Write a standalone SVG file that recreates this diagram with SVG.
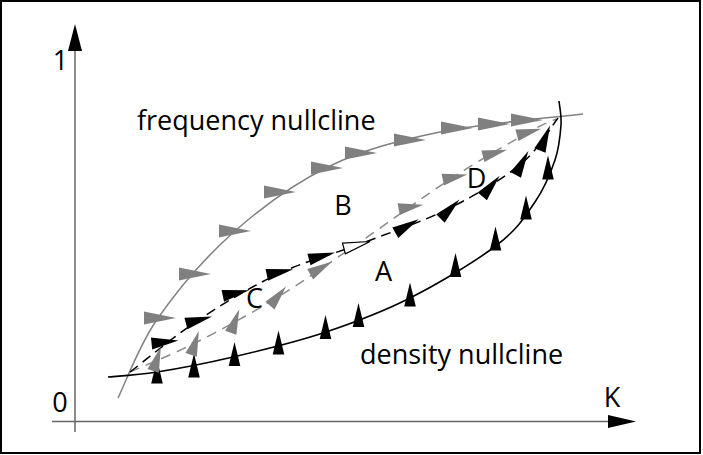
<svg xmlns="http://www.w3.org/2000/svg" xmlns:xlink="http://www.w3.org/1999/xlink" width="703" height="455" viewBox="0 0 703 455">
  <style>
    text { font-family: "Open Sans", "Noto Sans", "DejaVu Sans", sans-serif; font-size: 27px; fill: #000; }
    .axis { stroke: #666; stroke-width: 1.5; fill: none; }
    .freq { stroke: #808080; stroke-width: 1.5; fill: none; }
    .dens { stroke: #000; stroke-width: 1.6; fill: none; }
    .bdash { stroke: #000; stroke-width: 1.5; fill: none; stroke-dasharray: 10 6; }
    .gdash { stroke: #8a8a8a; stroke-width: 1.5; fill: none; stroke-dasharray: 10 7; }
  </style>
  <defs>
    <polygon id="fa" points="-16,-6.5 16,0 -16,6.5" fill="#808080"/>
    <polygon id="da" points="-5.8,12 0,-12 5.8,12" fill="#000"/>
    <polygon id="ba" points="-13.5,-6 13.5,0 -13.5,6" fill="#000"/>
    <polygon id="ga" points="-12.5,-6 12.5,0 -12.5,6" fill="#808080"/>
  </defs>

  <rect x="1" y="1" width="699" height="452" fill="#fff" stroke="#000" stroke-width="2"/>

  <g id="axes">
    <line class="axis" x1="75" y1="432" x2="75" y2="50"/>
    <polygon points="75,24 68,51 82,51" fill="#000"/>
    <line class="axis" x1="52" y1="421.5" x2="610" y2="421.5"/>
    <polygon points="636,421.5 608,415 608,428" fill="#000"/>
    <text x="60.5" y="70" text-anchor="middle">1</text>
    <text x="60" y="412" text-anchor="middle">0</text>
    <text x="612" y="407" text-anchor="middle">K</text>
  </g>

  <g id="frequency-nullcline">
    <path class="freq" d="M118,398 C124.7,384.7 138.5,345.8 158,318 C177.5,290.2 206.3,256.3 235,231 C263.7,205.7 295.8,182.5 330,166 C364.2,149.5 397.8,140.7 440,132 C482.2,123.3 559.2,117 583,114"/>
    <use xlink:href="#fa" x="160" y="318"/>
    <use xlink:href="#fa" x="195" y="274"/>
    <use xlink:href="#fa" x="235" y="231"/>
    <use xlink:href="#fa" x="280" y="192"/>
    <use xlink:href="#fa" x="327" y="168"/>
    <use xlink:href="#fa" x="361" y="153"/>
    <use xlink:href="#fa" x="410" y="140"/>
    <use xlink:href="#fa" x="457" y="128"/>
    <use xlink:href="#fa" x="494" y="124"/>
    <use xlink:href="#fa" x="527" y="120"/>
    <text x="137" y="130">frequency nullcline</text>
  </g>

  <g id="density-nullcline">
    <path class="dens" d="M108,377 C116.2,376.2 136.2,375.3 157,372 C177.8,368.7 205.3,363.5 233,357 C260.7,350.5 293.5,342.8 323,333 C352.5,323.2 381,312.7 410,298 C439,283.3 476.2,261 497,245 C517.8,229 525.3,216.2 535,202 C544.7,187.8 550.7,172.8 555,160 C559.3,147.2 560.3,134.8 561,125 C561.7,115.2 559.3,105 559,101"/>
    <use xlink:href="#da" x="157" y="371.5"/>
    <use xlink:href="#da" x="194" y="365.5"/>
    <use xlink:href="#da" x="234.5" y="354"/>
    <use xlink:href="#da" x="278.5" y="342.5"/>
    <use xlink:href="#da" x="325.5" y="327"/>
    <use xlink:href="#da" x="358.5" y="315"/>
    <use xlink:href="#da" x="410" y="294.5"/>
    <use xlink:href="#da" x="455.5" y="265"/>
    <use xlink:href="#da" x="495.5" y="238.5"/>
    <use xlink:href="#da" x="526" y="207.5"/>
    <use xlink:href="#da" x="548" y="167.5"/>
    <text x="360" y="364">density nullcline</text>
  </g>

  <g id="connectors">
    <path class="gdash" d="M130,372 C140.8,367.2 170.3,355.5 195,343 C219.7,330.5 250.5,313.8 278,297 C305.5,280.2 331,261.8 360,242 C389,222.2 423.8,196.3 452,178 C480.2,159.7 511.7,141.8 529,132 C546.3,122.2 551.5,121.2 556,119"/>
    <path class="bdash" d="M130,372 C141.7,363.2 175,335.5 200,319 C225,302.5 253.3,285.5 280,273 C306.7,260.5 331.7,254.8 360,244 C388.3,233.2 423,221.5 450,208 C477,194.5 504,178 522,163 C540,148 552,125.5 558,118"/>
    <use xlink:href="#ga" transform="translate(157,359) rotate(-72)"/>
    <use xlink:href="#ga" transform="translate(195,343) rotate(-72)"/>
    <use xlink:href="#ga" transform="translate(235,321) rotate(-70)"/>
    <use xlink:href="#ga" transform="translate(278,296) rotate(-50)"/>
    <use xlink:href="#ga" transform="translate(321,268) rotate(-30)"/>
    <use xlink:href="#ga" transform="translate(411,207) rotate(-10)"/>
    <use xlink:href="#ga" transform="translate(455,177) rotate(-12)"/>
    <use xlink:href="#ga" transform="translate(495,153) rotate(-15)"/>
    <use xlink:href="#ga" transform="translate(529,132) rotate(-15)"/>
    <use xlink:href="#ba" transform="translate(165,342) rotate(-6)"/>
    <use xlink:href="#ba" transform="translate(199,320) rotate(-15)"/>
    <use xlink:href="#ba" transform="translate(236,293) rotate(-12)"/>
    <use xlink:href="#ba" transform="translate(280,272) rotate(-12)"/>
    <use xlink:href="#ba" transform="translate(322,256) rotate(-15)"/>
    <polygon points="-13.5,-5.5 13.5,0 -13.5,5.5" fill="#fff" stroke="#000" stroke-width="1.2" transform="translate(357,245) rotate(-15)"/>
    <use xlink:href="#ba" transform="translate(407,226) rotate(-30)"/>
    <use xlink:href="#ba" transform="translate(450,209) rotate(-45)"/>
    <use xlink:href="#ba" transform="translate(491,186) rotate(-50)"/>
    <use xlink:href="#ba" transform="translate(522,163) rotate(-62)"/>
    <use xlink:href="#ba" transform="translate(545,138) rotate(-68)"/>
  </g>

  <g id="region-labels">
    <text x="383.5" y="281" text-anchor="middle">A</text>
    <text x="343" y="215" text-anchor="middle">B</text>
    <text x="254.5" y="308" text-anchor="middle">C</text>
    <text x="476.5" y="188" text-anchor="middle">D</text>
  </g>
</svg>
